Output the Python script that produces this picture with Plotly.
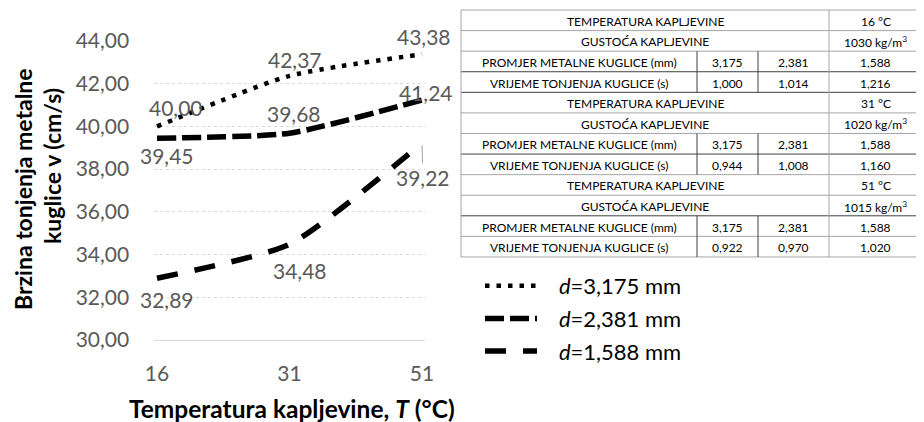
import plotly.graph_objects as go

# ---------------- data ----------------
temperatures = ["16", "31", "51"]
series_names = ["<i>d</i>=3,175 mm", "<i>d</i>=2,381 mm", "<i>d</i>=1,588 mm"]
v_d3175 = [40.00, 42.37, 43.38]
v_d2381 = [39.45, 39.68, 41.24]
v_d1588 = [32.89, 34.48, 39.22]
y_ticks = [30, 32, 34, 36, 38, 40, 42, 44]

table_temps = [16, 31, 51]
table_density = [1030, 1020, 1015]
table_diameters = [3.175, 2.381, 1.588]
table_times = [[1.000, 1.014, 1.216],
               [0.944, 1.008, 1.160],
               [0.922, 0.970, 1.020]]
row_labels = ["TEMPERATURA KAPLJEVINE", "GUSTOĆA KAPLJEVINE",
              "PROMJER METALNE KUGLICE (mm)", "VRIJEME TONJENJA KUGLICE (s)"]

# ---------------- figure ----------------
OFF = 8                 # page body margin of the browser
W, H = 924 - OFF, 422 - OFF
FONT = "Lato"
GRAY = "#595959"

def px(x):
    return (x - OFF) / W

def py(y):
    return 1 - (y - OFF) / H

def fmt(v, n):
    return f"{v:.{n}f}".replace(".", ",")

fig = go.Figure()

styles = [
    dict(width=4.5, dash="4.5px,7px"),
    dict(width=5.5, dash="19px,6px"),
    dict(width=5.5, dash="21px,17px"),
]
all_series = [v_d3175, v_d2381, v_d1588]
for i, (name, vals, st) in enumerate(zip(series_names, all_series, styles)):
    fig.add_trace(go.Scatter(
        x=temperatures, y=vals, name="\u00a0\u00a0\u00a0" + name, mode="lines",
        line=dict(color="black", width=st["width"], dash=st["dash"], shape="spline", smoothing=0.55),
        legendgroup=f"g{i}",
    ))

# data labels (offsets in px: dx right, dy down)
label_offsets = [
    [(19, -19), (5, -16), (2, -18)],
    [(10, 17), (4, -20), (4, -7)],
    [(10, 21), (10, 26), None],
]
annotations = []
for vals, offs in zip(all_series, label_offsets):
    for ci, (v, off) in enumerate(zip(vals, offs)):
        if off is None:
            annotations.append(dict(
                x=ci, y=v, xref="x", yref="y", text=fmt(v, 2),
                showarrow=True, arrowhead=0, arrowwidth=1, arrowcolor="#a6a6a6",
                ax=1, ay=34, standoff=2,
                font=dict(family=FONT, size=21, color=GRAY)))
        else:
            annotations.append(dict(
                x=ci, y=v, xref="x", yref="y", text=fmt(v, 2), showarrow=False,
                xanchor="center", yanchor="middle",
                xshift=off[0], yshift=-off[1],
                font=dict(family=FONT, size=21, color=GRAY)))

# axis titles
annotations.append(dict(x=px(23), y=py(189), xref="paper", yref="paper",
                        xanchor="center", yanchor="middle",
                        text="<b>Brzina tonjenja metalne</b>", textangle=-90, showarrow=False,
                        font=dict(family=FONT, size=23, color="black")))
annotations.append(dict(x=px(52), y=py(166), xref="paper", yref="paper",
                        xanchor="center", yanchor="middle",
                        text="<b>kuglice v (cm/s)</b>", textangle=-90, showarrow=False,
                        font=dict(family=FONT, size=23, color="black")))
annotations.append(dict(x=px(292), y=py(408), xref="paper", yref="paper",
                        xanchor="center", yanchor="middle",
                        text="<b>Temperatura kapljevine, <i>T</i> (°C)</b>", showarrow=False,
                        font=dict(family=FONT, size=24.5, color="black")))

# ---------------- table ----------------
col_x = [461, 697, 758, 829, 922]
row_top, row_h = 10, 20.58
n_rows = 12
dark_rows = {3, 4, 7, 10}
shapes = []
light, dark = "#a6a6a6", "#404040"
for r in range(n_rows + 1):
    y = row_top + r * row_h
    shapes.append(dict(type="line", xref="paper", yref="paper",
                       x0=px(col_x[0]), x1=px(col_x[-1]), y0=py(y), y1=py(y),
                       line=dict(color=dark if r in dark_rows else light, width=1)))
for cx in (col_x[0], col_x[3], col_x[4]):
    shapes.append(dict(type="line", xref="paper", yref="paper",
                       x0=px(cx), x1=px(cx), y0=py(row_top), y1=py(row_top + n_rows * row_h),
                       line=dict(color=light, width=1)))
for b in range(3):
    for rr in (2, 3):
        r = 4 * b + rr
        for cx in (col_x[1], col_x[2]):
            shapes.append(dict(type="line", xref="paper", yref="paper",
                               x0=px(cx), x1=px(cx), y0=py(row_top + r * row_h),
                               y1=py(row_top + (r + 1) * row_h),
                               line=dict(color=dark, width=1)))

def cell(text, c0, c1, r):
    xc = (col_x[c0] + col_x[c1]) / 2
    yc = row_top + (r + 0.5) * row_h + 1
    annotations.append(dict(x=px(xc), y=py(yc), xref="paper", yref="paper", text=text,
                            xanchor="center", yanchor="middle",
                            showarrow=False, font=dict(family=FONT, size=12, color="black")))

for b in range(3):
    r0 = 4 * b
    cell(row_labels[0], 0, 3, r0)
    cell(f"{table_temps[b]} °C", 3, 4, r0)
    cell(row_labels[1], 0, 3, r0 + 1)
    cell(f"{table_density[b]} kg/m<sup>3</sup>", 3, 4, r0 + 1)
    cell(row_labels[2], 0, 1, r0 + 2)
    for k, d in enumerate(table_diameters):
        cell(fmt(d, 3), k + 1, k + 2, r0 + 2)
    cell(row_labels[3], 0, 1, r0 + 3)
    for k, t in enumerate(table_times[b]):
        cell(fmt(t, 3), k + 1, k + 2, r0 + 3)

# ---------------- layout ----------------
x0d, x1d = 157, 422
ext = 0.02
pxu = (x1d - x0d) / 2
fig.update_layout(
    template="none",
    width=W, height=H,
    margin=dict(l=0, r=0, t=0, b=0),
    paper_bgcolor="white", plot_bgcolor="white",
    separators=", ",
    font=dict(family=FONT, color=GRAY),
    xaxis=dict(type="category", range=[-ext, 2 + ext],
               domain=[px(x0d - ext * pxu), px(x1d + ext * pxu)],
               showgrid=False, showline=True, linecolor="#d9d9d9", linewidth=1,
               ticks="outside", ticklen=15, tickcolor="rgba(0,0,0,0)",
               tickfont=dict(family=FONT, size=21, color=GRAY), automargin=False,
               zeroline=False),
    yaxis=dict(range=[30, 44], domain=[py(340), py(41)], tickvals=y_ticks, tickformat=".2f",
               showgrid=True, gridcolor="#d9d9d9", griddash="dot", gridwidth=1,
               showline=False, zeroline=False,
               ticks="outside", ticklen=20, tickcolor="rgba(0,0,0,0)",
               tickfont=dict(family=FONT, size=21, color=GRAY), automargin=False),
    showlegend=True,
    legend=dict(x=px(480), y=py(265), xanchor="left", yanchor="top",
                font=dict(family=FONT, size=22, color="black"),
                itemwidth=52, tracegroupgap=1, bgcolor="rgba(0,0,0,0)"),
    shapes=shapes,
    annotations=annotations,
)

fig.write_html("out.html")
